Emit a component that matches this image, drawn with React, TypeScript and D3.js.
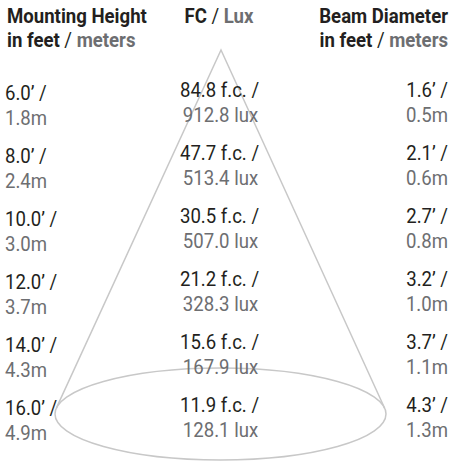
import React from "react";
import * as d3 from "d3";

const mountFt = [6.0, 8.0, 10.0, 12.0, 14.0, 16.0];
const mountM = [1.8, 2.4, 3.0, 3.7, 4.3, 4.9];
const fcValues = [84.8, 47.7, 30.5, 21.2, 15.6, 11.9];
const luxValues = [912.8, 513.4, 507.0, 328.3, 167.9, 128.1];
const beamFt = [1.6, 2.1, 2.7, 3.2, 3.7, 4.3];
const beamM = [0.5, 0.6, 0.8, 1.0, 1.1, 1.3];

const W = 453;
const H = 463;
const DARK = "#231f20";
const GRAY = "#6d6e71";
const LINE = "#c8c8c8";
const SX = 0.93;
const FONT = "Roboto, 'Liberation Sans', sans-serif";

const f1 = d3.format(".1f");

export default function App() {
  const idx = d3.range(mountFt.length);
  const yRow = d3.scaleLinear().domain([0, 5]).range([97, 412]);

  // cone geometry
  const apex = { x: 221, y: 50 };
  const ell = { cx: 220.5, cy: 414, rx: 165.5, ry: 46 };
  const d = (ell.cy - apex.y) / ell.ry;
  const ty = -1 / d;
  const tx = Math.sqrt(1 - ty * ty);
  const leftT = { x: ell.cx - tx * ell.rx, y: ell.cy + ty * ell.ry };
  const rightT = { x: ell.cx + tx * ell.rx, y: ell.cy + ty * ell.ry };
  const cone = d3.path();
  cone.moveTo(leftT.x, leftT.y);
  cone.lineTo(apex.x, apex.y);
  cone.lineTo(rightT.x, rightT.y);

  const T = (x: number, y: number) => `translate(${x},${y}) scale(${SX},1)`;

  return (
    <svg
      width={W}
      height={H}
      style={{ position: "absolute", left: 0, top: 0, background: "#fff" }}
      fontFamily={FONT}
    >
      <rect width={W} height={H} fill="#fff" />
      <path d={cone.toString()} fill="none" stroke={LINE} strokeWidth={1.5} />
      <ellipse cx={ell.cx} cy={ell.cy} rx={ell.rx} ry={ell.ry} fill="none" stroke={LINE} strokeWidth={1.5} />

      {/* headers */}
      <g fontSize={20}>
        <text transform={T(7, 22.5)} fill={DARK} fontWeight={700}>Mounting Height</text>
        <text transform={T(7, 46.5)}>
          <tspan fill={DARK} fontWeight={700}>in feet</tspan>
          <tspan fill={DARK} fontWeight={400}> / </tspan>
          <tspan fill={GRAY} fontWeight={700}>meters</tspan>
        </text>
        <text transform={T(219, 22.5)} textAnchor="middle">
          <tspan fill={DARK} fontWeight={700}>FC</tspan>
          <tspan fill={DARK} fontWeight={400}> / </tspan>
          <tspan fill={GRAY} fontWeight={700}>Lux</tspan>
        </text>
        <text transform={T(448, 22.5)} textAnchor="end" fill={DARK} fontWeight={700}>Beam Diameter</text>
        <text transform={T(448, 46.5)} textAnchor="end">
          <tspan fill={DARK} fontWeight={700}>in feet</tspan>
          <tspan fill={DARK} fontWeight={400}> / </tspan>
          <tspan fill={GRAY} fontWeight={700}>meters</tspan>
        </text>
      </g>

      {/* rows */}
      <g fontSize={20} fontWeight={400}>
        {idx.map((i) => {
          const y = yRow(i);
          return (
            <g key={i}>
              <text transform={T(5, y + 3)} fill={DARK}>{`${f1(mountFt[i])}’ /`}</text>
              <text transform={T(5, y + 27.5)} fill={GRAY}>{`${f1(mountM[i])}m`}</text>
              <text transform={T(219.5, y)} textAnchor="middle" fill={DARK}>{`${f1(fcValues[i])} f.c. /`}</text>
              <text transform={T(220.5, y + 25)} textAnchor="middle" fill={GRAY}>{`${f1(luxValues[i])} lux`}</text>
              <text transform={T(448, y)} textAnchor="end" fill={DARK}>{`${f1(beamFt[i])}’ /`}</text>
              <text transform={T(448, y + 25)} textAnchor="end" fill={GRAY}>{`${f1(beamM[i])}m`}</text>
            </g>
          );
        })}
      </g>
    </svg>
  );
}
